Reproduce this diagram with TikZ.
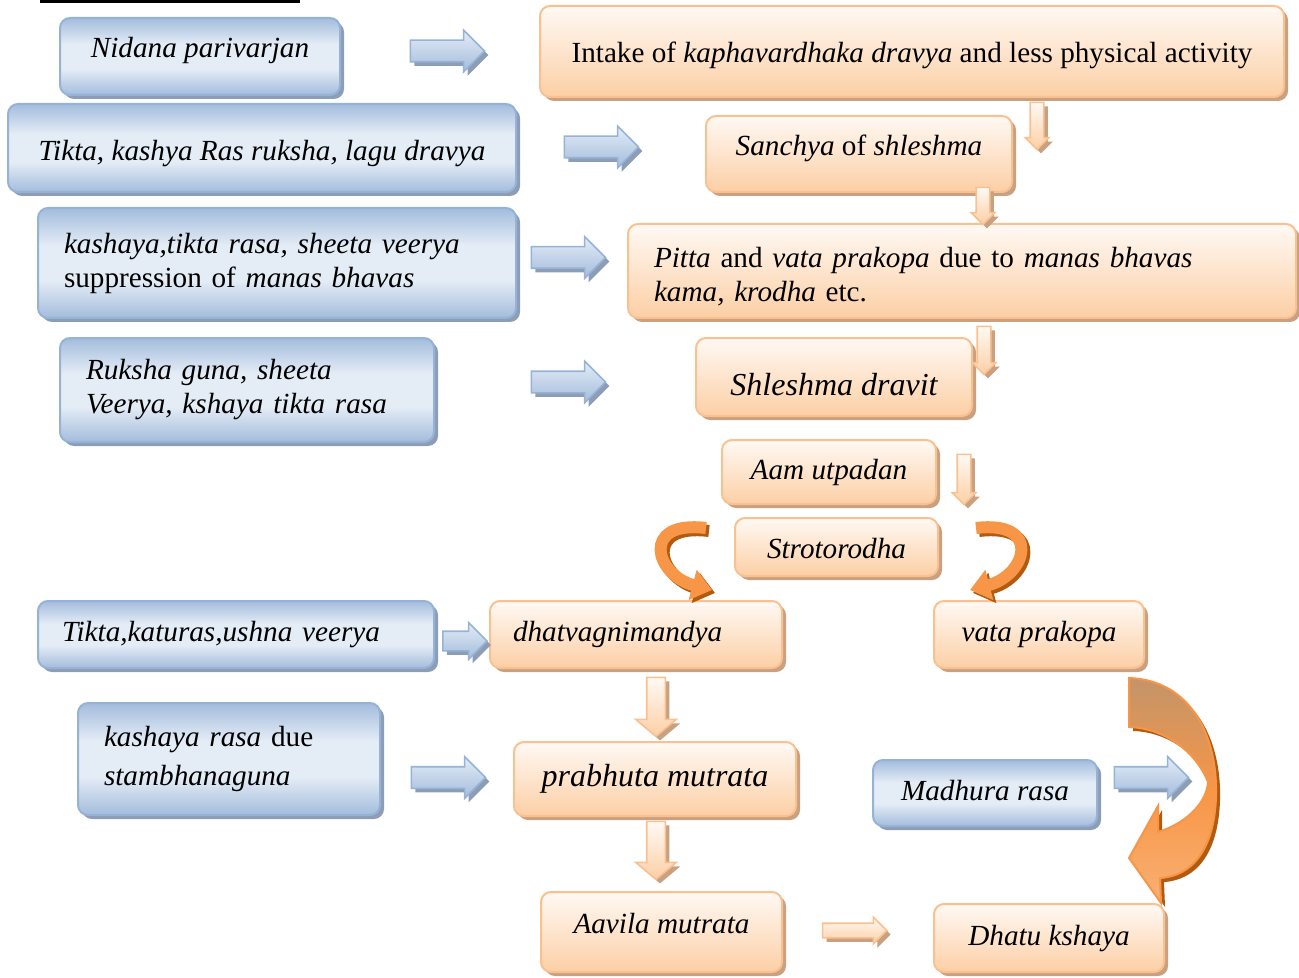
\documentclass[tikz,border=0pt]{standalone}
\usepackage{fontspec}
\setmainfont{Liberation Serif}
\usetikzlibrary{shapes.arrows,shadows,arrows.meta}

\definecolor{bluedark}{HTML}{A3BCDC}
\definecolor{bluelight}{HTML}{E4ECF6}
\definecolor{blueline}{HTML}{95B3D7}
\definecolor{blueshade}{HTML}{8D9DB6}
\definecolor{orgtop}{HTML}{FFF9F4}
\definecolor{orgbot}{HTML}{FCCFA5}
\definecolor{orgline}{HTML}{FAC08F}
\definecolor{orgshade}{HTML}{C9A080}
\definecolor{curvefill}{HTML}{F79646}
\definecolor{curvetop}{HTML}{C4946A}
\definecolor{curvelow}{HTML}{F9B074}
\definecolor{curveedge}{HTML}{B25B0F}

\pgfdeclareverticalshading{bluegrad}{100bp}{color(0bp)=(bluedark); color(25bp)=(bluedark);
  color(42bp)=(bluelight); color(58bp)=(bluelight); color(75bp)=(bluedark); color(100bp)=(bluedark)}
\pgfdeclareverticalshading{curvegrad}{100bp}{color(0bp)=(curvelow); color(25bp)=(curvelow);
  color(50bp)=(curvefill); color(75bp)=(curvetop); color(100bp)=(curvetop)}

\tikzset{
  box/.style={rectangle, rounded corners=5pt, line width=1pt, align=center, inner sep=0pt,
    text height=10.5pt, text depth=3.2pt, font=\fontsize{14.6}{17}\selectfont\itshape},
  bigtext/.style={font=\fontsize{16}{19}\selectfont\itshape},
  bluebox/.style={box, draw=blueline, shading=bluegrad,
    drop shadow={shadow xshift=2pt, shadow yshift=-2pt, fill=blueshade, opacity=1}},
  orangebox/.style={box, draw=orgline, top color=orgtop, bottom color=orgbot,
    drop shadow={shadow xshift=2pt, shadow yshift=-2pt, fill=orgshade, opacity=1}},
  multi/.style={text height=, text depth=, align=left},
  bluearrow/.style={single arrow, draw=blueline, line width=0.8pt, top color=bluelight, bottom color=bluedark,
    inner sep=5pt, single arrow head extend=5pt, minimum height=37pt,
    drop shadow={shadow xshift=2pt, shadow yshift=-2pt, fill=blueshade, opacity=1}},
  orangearrow/.style={single arrow, draw=orgline, line width=0.8pt, top color=orgtop, bottom color=orgbot,
    inner sep=3pt, single arrow head extend=2.5pt, shape border rotate=270,
    drop shadow={shadow xshift=2pt, shadow yshift=-2pt, fill=orgshade, opacity=1}},
  bigdown/.style={inner sep=4.25pt, single arrow head extend=5.5pt, single arrow tip angle=100},
  curvearrow/.style={line width=6pt, draw=curvefill, -{Triangle[width=15pt,length=10pt]}},
  curveshade/.style={curvearrow, draw=curveedge}
}

\begin{document}
\begin{tikzpicture}[x=0.5pt,y=-0.5pt]
\useasboundingbox (0,0) rectangle (1299,978);
\fill (40,0) rectangle (300,3);

% left column
\node[bluebox, text height=4.7pt, minimum width=140pt, minimum height=38.5pt] (nidana) at (200,56.5) {Nidana parivarjan};
\node[bluebox, text height=16pt, minimum width=254pt, minimum height=44pt] (tikta) at (262,148) {Tikta, kashya Ras ruksha, lagu dravya};
\node[bluebox, multi, text width=213pt, inner xsep=13pt, minimum height=55pt] (kashaya) at (277,263)
  {kashaya,tikta rasa, sheeta veerya\\\textup{suppression of} manas bhavas};
\node[bluebox, multi, text width=161pt, inner xsep=13pt, minimum height=52pt] (ruksha) at (247,390)
  {Ruksha guna, sheeta\\Veerya, kshaya tikta rasa};
\node[bluebox, text width=174pt, inner xsep=12pt, minimum height=33.5pt, align=left] (tiktakatu) at (236,634.5)
  {Tikta,katuras,ushna veerya};
\node[bluebox, multi, text width=125pt, inner xsep=13pt, minimum height=56pt,
  font=\fontsize{14.6}{19.5}\selectfont\itshape] (kasrasa) at (229,759) {kashaya rasa \textup{due}\\stambhanaguna};
\node[bluebox, minimum width=112pt, minimum height=33pt] (madhura) at (985,793) {Madhura rasa};

% chain
\node[orangebox, text height=14pt, minimum width=372pt, minimum height=45.5pt, font=\fontsize{14.6}{17}\selectfont] (intake) at (912,51.5)
  {Intake of \textit{kaphavardhaka dravya} and less physical activity};
\node[orangebox, text height=5.2pt, minimum width=153pt, minimum height=38pt] (sanchya) at (859,154) {Sanchya \textup{of} shleshma};
\node[orangebox, multi, text width=308pt, inner xsep=13pt, minimum height=47pt] (pitta) at (962,271)
  {\rule{0pt}{15.5pt}Pitta \textup{and} vata prakopa \textup{due to} manas bhavas\\kama, krodha \textup{etc.}};
\node[orangebox, bigtext, text height=22pt, minimum width=138pt, minimum height=39pt] (dravit) at (834,377) {Shleshma dravit};
\node[orangebox, minimum width=107pt, minimum height=32pt] (aam) at (829,472) {Aam utpadan};
\node[orangebox, text height=14.2pt, minimum width=101.5pt, minimum height=29pt] (stroto) at (836.5,547) {Strotorodha};
\node[orangebox, text width=123pt, inner xsep=11.5pt, minimum height=33.5pt, align=left] (dhatva) at (636,634.5) {dhatvagnimandya};
\node[orangebox, minimum width=105pt, minimum height=33.5pt] (vata) at (1039,634.5) {vata prakopa};
\node[orangebox, bigtext, minimum width=141pt, minimum height=37pt] (prabhuta) at (655,779) {prabhuta mutrata};
\node[orangebox, text height=4.2pt, minimum width=120.5pt, minimum height=40pt] (aavila) at (661.5,932) {Aavila mutrata};
\node[orangebox, minimum width=115pt, minimum height=34pt] (dhatu) at (1049,938) {Dhatu kshaya};

% block arrows
\node[bluearrow] (a1) at (442,51) {};
\node[bluearrow] (a2) at (596,147) {};
\node[bluearrow] (a3) at (563,257.5) {};
\node[bluearrow] (a4) at (563,382) {};
\node[bluearrow, inner sep=4.5pt, single arrow head extend=4.25pt, minimum height=22pt] (a5) at (460,641) {};
\node[bluearrow] (a6) at (443,777.5) {};
\node[bluearrow] (a7) at (1146,777.5) {};

\node[orangearrow, minimum height=23.5pt] (d1) at (1037,122.5) {};
\node[orangearrow, minimum height=18.5pt] (d2) at (983,202.5) {};
\node[orangearrow, minimum height=24pt] (d3) at (984,347) {};
\node[orangearrow, minimum height=25pt] (d4) at (964,476) {};
\node[orangearrow, bigdown, minimum height=29.5pt] (d5) at (656,703) {};
\node[orangearrow, bigdown, minimum height=29pt] (d6) at (656,846.5) {};
\node[orangearrow, shape border rotate=0, inner sep=3.25pt, single arrow head extend=3pt, minimum height=32pt] (r1) at (851,930.5) {};

% curved arrows
\draw[curveshade, shift={(3,3)}] (706,528) .. controls (640,520) and (655,575) .. (712,590);
\draw[curvearrow] (706,528) .. controls (640,520) and (655,575) .. (712,590);
\draw[curveshade, shift={(3,3)}] (976,528) .. controls (1042,520) and (1027,575) .. (970,590);
\draw[curvearrow] (976,528) .. controls (1042,520) and (1027,575) .. (970,590);

\path[draw=curvefill, line width=1pt, shading=curvegrad,
  drop shadow={shadow xshift=2pt, shadow yshift=-2pt, fill=curveedge, opacity=1}]
  (1129,678) .. controls (1190,680) and (1218,735) .. (1216,797)
  .. controls (1214,850) and (1192,876) .. (1160,878)
  -- (1161,903) -- (1129,858) -- (1158,806) -- (1158,832)
  .. controls (1190,822) and (1207,800) .. (1208,782)
  .. controls (1196,752) and (1165,728) .. (1129,727) -- cycle;
\end{tikzpicture}
\end{document}
